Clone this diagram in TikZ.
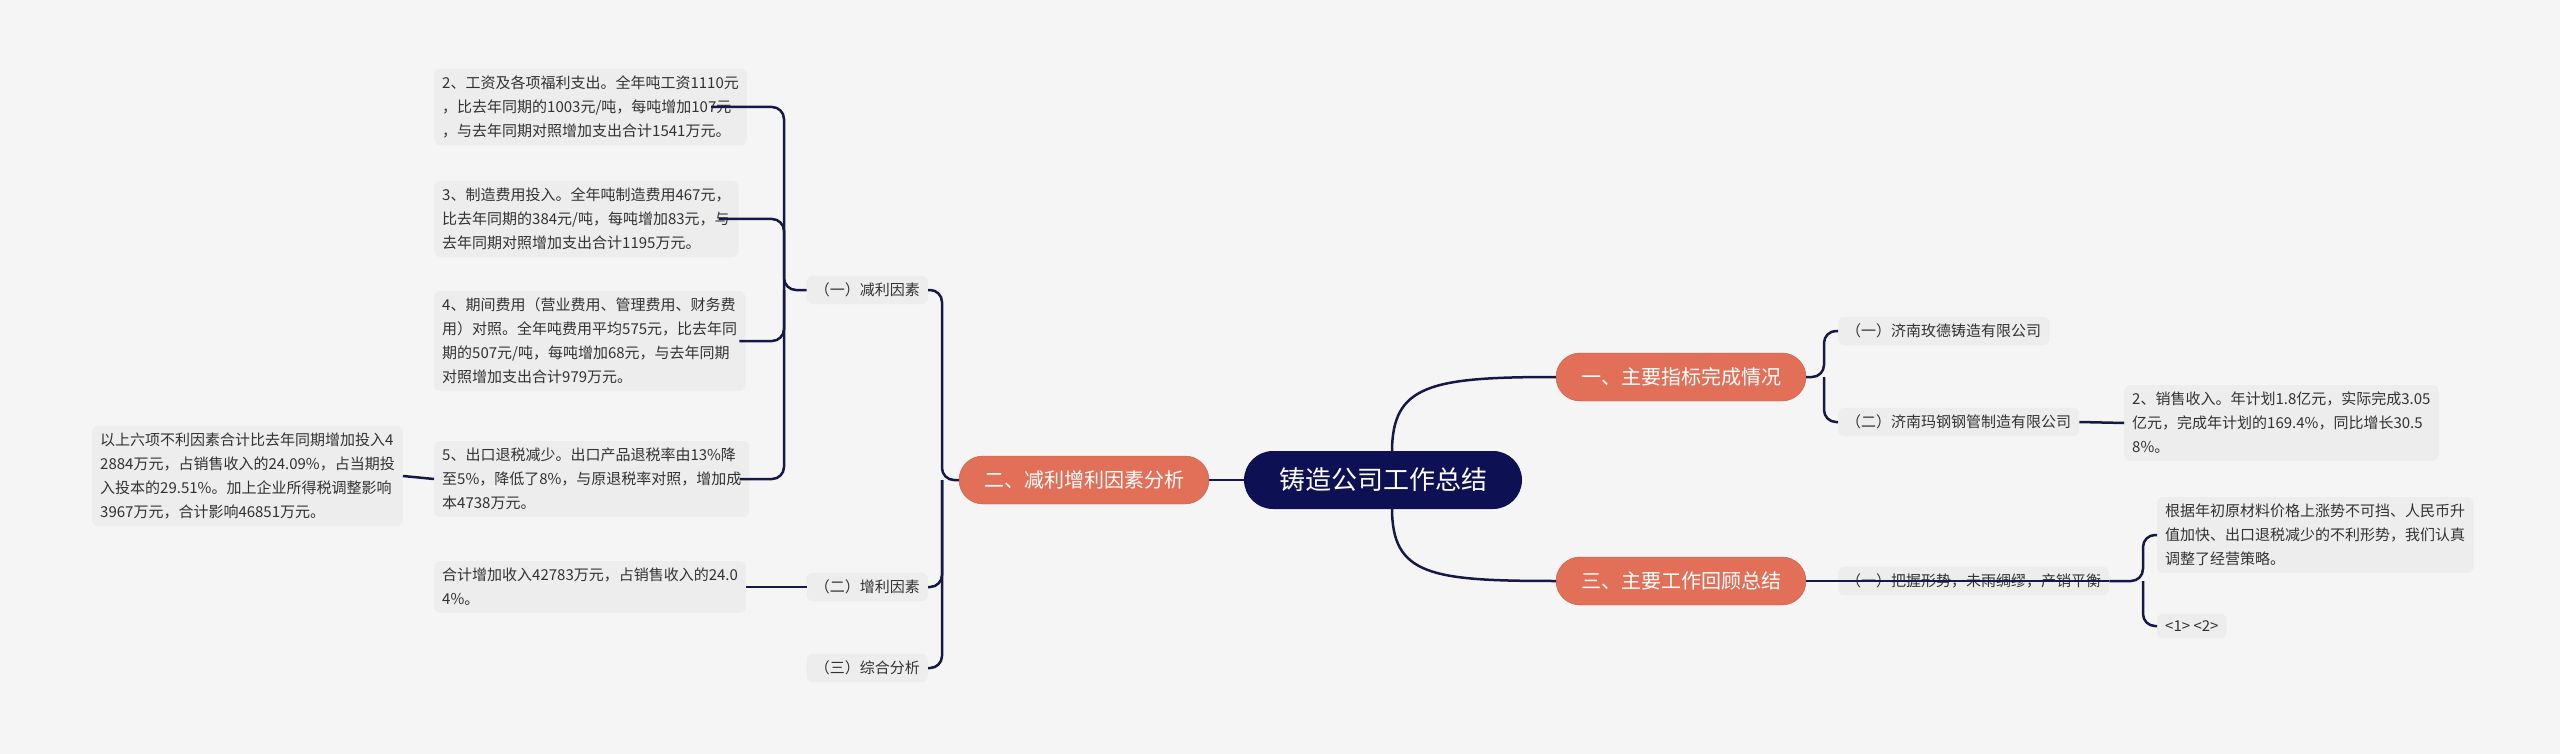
\documentclass[tikz,border=0pt]{standalone}
\usepackage{fontspec}
\setmainfont{Noto Sans CJK SC}
\begin{document}
\begin{tikzpicture}[x=1pt,y=-1pt,
  bgc/.style={fill={rgb,255:red,245;green,245;blue,245}},
  leaf/.style={anchor=west,fill={rgb,255:red,237;green,237;blue,237},rounded corners=6,align=left,inner xsep=8,inner ysep=7,font=\fontsize{15}{24}\selectfont,text={rgb,255:red,50;green,50;blue,50}},
  lvone/.style={fill={rgb,255:red,226;green,112;blue,88},draw={rgb,255:red,200;green,90;blue,70},rounded corners=24,minimum width=250,minimum height=48,text=white,font=\fontsize{20}{24}\selectfont},
  conn/.style={draw={rgb,255:red,22;green,24;blue,70},line width=2.5,rounded corners=12}]
\fill[bgc] (0,0) rectangle (2560,754);
\node[fill={rgb,255:red,14;green,16;blue,84},rounded corners=29,minimum width=278,minimum height=58,text=white,font=\fontsize{26}{30}\selectfont] (root) at (1383,480) {铸造公司工作总结};
\node[lvone] (a) at (1681,377) {一、主要指标完成情况};
\node[lvone] (c) at (1681,581) {三、主要工作回顾总结};
\node[lvone] (b) at (1084,480) {二、减利增利因素分析};
% right
\node[leaf] (a1) at (1838,331) {（一）济南玫德铸造有限公司};
\node[leaf] (a2) at (1838,422) {（二）济南玛钢钢管制造有限公司};
\node[leaf] (a21) at (2124,423) {2、销售收入。年计划1.8亿元，实际完成3.05\\亿元，完成年计划的169.4\%，同比增长30.5\\8\%。};
\node[leaf] (c1) at (1838,581) {（一）把握形势，未雨绸缪，产销平衡};
\node[leaf] (c11) at (2157,535) {根据年初原材料价格上涨势不可挡、人民币升\\值加快、出口退税减少的不利形势，我们认真\\调整了经营策略。};
\node[leaf] (c12) at (2157,626) {<1>  <2>};
% left
\node[leaf,anchor=east] (b1) at (928,290) {（一）减利因素};
\node[leaf,anchor=east] (b2) at (928,587) {（二）增利因素};
\node[leaf,anchor=east] (b3) at (928,668) {（三）综合分析};
\node[leaf] (d2) at (434,107) {2、工资及各项福利支出。全年吨工资1110元\\，比去年同期的1003元/吨，每吨增加107元\\，与去年同期对照增加支出合计1541万元。};
\node[leaf] (d3) at (434,219) {3、制造费用投入。全年吨制造费用467元，\\比去年同期的384元/吨，每吨增加83元，与\\去年同期对照增加支出合计1195万元。};
\node[leaf] (d4) at (434,341) {4、期间费用（营业费用、管理费用、财务费\\用）对照。全年吨费用平均575元，比去年同\\期的507元/吨，每吨增加68元，与去年同期\\对照增加支出合计979万元。};
\node[leaf] (d5) at (434,479) {5、出口退税减少。出口产品退税率由13\%降\\至5\%，降低了8\%，与原退税率对照，增加成\\本4738万元。};
\node[leaf,anchor=east] (d51) at (403,476) {以上六项不利因素合计比去年同期增加投入4\\2884万元，占销售收入的24.09\%，占当期投\\入投本的29.51\%。加上企业所得税调整影响\\3967万元，合计影响46851万元。};
\node[leaf] (e1) at (434,587) {合计增加收入42783万元，占销售收入的24.0\\4\%。};
% connectors
\draw[conn,rounded corners=0] (root.west) -- (b.east);
\draw[conn,rounded corners=0] (1392,452) .. controls (1392,385) and (1430,377) .. (a.west);
\draw[conn,rounded corners=0] (1392,508) .. controls (1392,575) and (1430,581) .. (c.west);
\coordinate (av) at (1824,377);
\draw[conn] (a.east) -- (av) |- (a1.west);
\draw[conn] (av) |- (a2.west);
\draw[conn] (a2.east) -- (a21.west);
\coordinate (cv) at (2143,581);
\draw[conn] (c.east) -- (c1.east);
\draw[conn] (c1.east) -- (cv) |- (c11.west);
\draw[conn] (cv) |- (c12.west);
\coordinate (bv) at (942,480);
\draw[conn] (b.west) -- (bv) |- (b1.east);
\draw[conn] (bv) |- (b2.east);
\draw[conn] (bv) |- (b3.east);
\coordinate (dv) at (784,290);
\draw[conn] (b1.west) -- (dv) |- ([xshift=-36]d2.east);
\draw[conn] (dv) |- ([xshift=-20]d3.east);
\draw[conn] (dv) |- ([xshift=-6]d4.east);
\draw[conn] (dv) |- ([xshift=-10]d5.east);
\draw[conn,rounded corners=0] (d5.west) -- (d51.east);
\draw[conn,rounded corners=0] (e1.east) -- (b2.west);
\draw[conn,rounded corners=0] (c.east) -- (c1.west);
\end{tikzpicture}
\end{document}
